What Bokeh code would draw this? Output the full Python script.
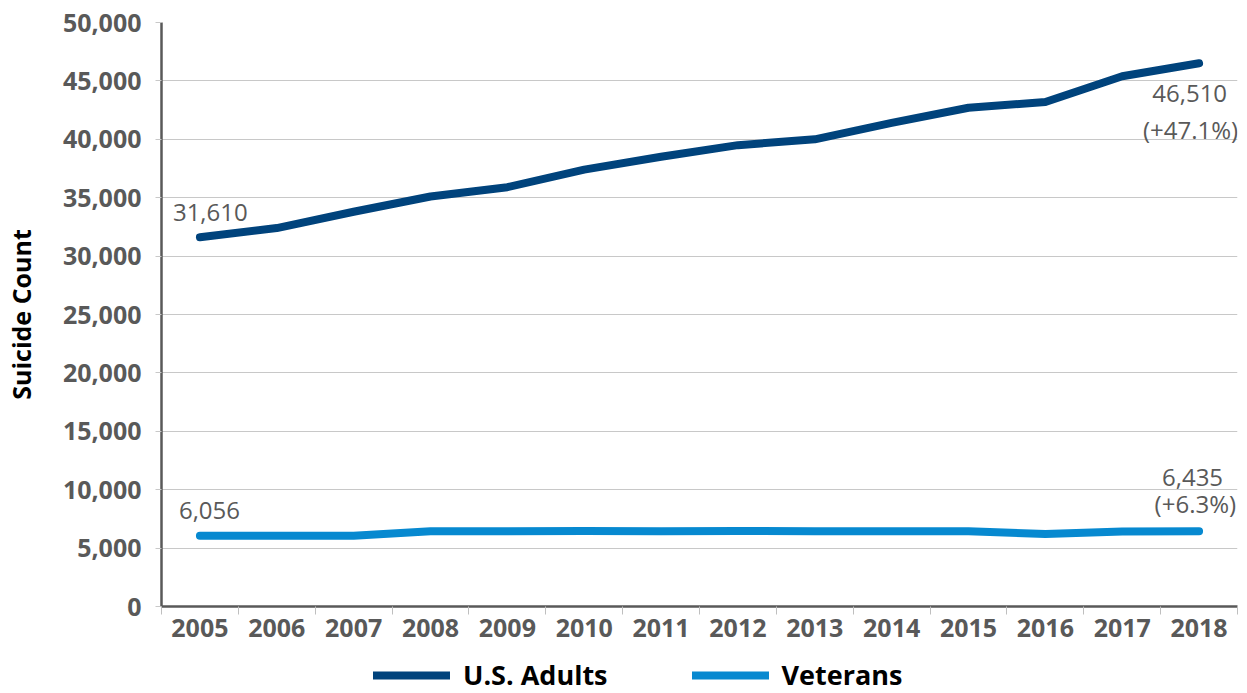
from bokeh.plotting import figure
from bokeh.layouts import column
from bokeh.models import (ColumnDataSource, FixedTicker, NumeralTickFormatter,
                          Legend, LegendItem)
from bokeh.core.properties import value
from bokeh.embed import file_html
from bokeh.resources import INLINE

# Annual suicide counts
years = list(range(2005, 2019))
us_adults = [31610, 32400, 33800, 35100, 35900, 37400, 38500,
             39500, 40000, 41400, 42700, 43200, 45400, 46510]
veterans = [6056, 6050, 6060, 6450, 6450, 6460, 6450,
            6460, 6450, 6450, 6440, 6200, 6430, 6435]
y_ticks = list(range(0, 50001, 5000))
series_names = ["U.S. Adults", "Veterans"]

US_COLOR = "#00437c"
VET_COLOR = "#0789d0"
GRAY = "#595959"
FONT = "Open Sans"
W = 1247

p = figure(width=W, height=652, output_backend="svg", toolbar_location=None,
           x_range=(years[0] - 0.5, years[-1] + 0.5), y_range=(0, 50000),
           min_border_left=158, min_border_right=10, min_border_top=22,
           min_border_bottom=46)
p.outline_line_color = None
p.background_fill_color = "white"
p.border_fill_color = "white"

# Year labels centred in each column, small ticks on the column boundaries
xa = p.xaxis[0]
xa.ticker = FixedTicker(ticks=years, minor_ticks=[y - 0.5 for y in years] + [years[-1] + 0.5])
xa.major_label_overrides = {y: str(y) for y in years}
xa.major_tick_line_color = None
xa.major_tick_out = 8
xa.major_tick_in = 0
xa.minor_tick_line_color = "#bfbfbf"
xa.minor_tick_line_width = 1
xa.minor_tick_out = 8
xa.minor_tick_in = 0
xa.major_label_standoff = 4
xa.axis_line_color = GRAY
xa.axis_line_width = 2.5
xa.major_label_text_font = FONT
xa.major_label_text_font_style = "bold"
xa.major_label_text_font_size = "25px"
xa.major_label_text_color = GRAY

ya = p.yaxis[0]
ya.ticker = FixedTicker(ticks=y_ticks, minor_ticks=[])
ya.formatter = NumeralTickFormatter(format="0,0")
ya.major_tick_line_color = "#c8c8c8"
ya.major_tick_out = 6
ya.major_tick_in = 0
ya.major_label_standoff = 14
ya.axis_line_color = GRAY
ya.axis_line_width = 2.5
ya.major_label_text_font = FONT
ya.major_label_text_font_style = "bold"
ya.major_label_text_font_size = "25px"
ya.major_label_text_color = GRAY
ya.axis_label = "Suicide Count"
ya.axis_label_text_font = FONT
ya.axis_label_text_font_style = "bold"
ya.axis_label_text_font_size = "25px"
ya.axis_label_text_color = "black"
ya.axis_label_standoff = 22

p.xgrid.grid_line_color = None
p.ygrid.ticker = FixedTicker(ticks=y_ticks[1:])
p.ygrid.grid_line_color = "#c8c8c8"
p.ygrid.grid_line_width = 1.2

src = ColumnDataSource(dict(year=years, us=us_adults, vet=veterans))
line_style = dict(line_width=8, line_join="round", line_cap="round")
p.line("year", "us", source=src, color=US_COLOR, **line_style)
p.line("year", "vet", source=src, color=VET_COLOR, **line_style)

# Start and end annotations, with percent change over the period
us_pct = (us_adults[-1] / us_adults[0] - 1) * 100
vet_pct = (veterans[-1] / veterans[0] - 1) * 100

lab_style = dict(text_font=value(FONT), text_font_size="24px", text_color=GRAY,
                 text_baseline="middle")

p.text(x=[years[0]], y=[us_adults[0]], text=[f"{us_adults[0]:,}"],
       x_offset=-27, y_offset=-25, text_align="left", **lab_style)
p.text(x=[years[-1]], y=[us_adults[-1]], text=[f"{us_adults[-1]:,}"],
       x_offset=28, y_offset=30, text_align="right", **lab_style)
p.text(x=[years[-1]], y=[us_adults[-1]], text=[f"(+{us_pct:.1f}%)"],
       x_offset=39, y_offset=66, text_align="right", **lab_style)

p.text(x=[years[0]], y=[veterans[0]], text=[f"{veterans[0]:,}"],
       x_offset=-21, y_offset=-25, text_align="left", **lab_style)
p.text(x=[years[-1]], y=[veterans[-1]], text=[f"{veterans[-1]:,}"],
       x_offset=24, y_offset=-54, text_align="right", **lab_style)
p.text(x=[years[-1]], y=[veterans[-1]], text=[f"(+{vet_pct:.1f}%)"],
       x_offset=37, y_offset=-28, text_align="right", **lab_style)

# Legend strip underneath the chart; its frame lines up with the chart frame.
# The key renderers hold a single NaN point so only their legend swatch shows.
lg = figure(width=W, height=41, output_backend="svg", toolbar_location=None,
            x_axis_type=None, y_axis_type=None, min_border=0,
            x_range=(0, 1), y_range=(0, 1))
lg.outline_line_color = None
lg.grid.visible = False
nan = float("nan")
keys = [lg.line(x=[nan], y=[nan], color=c, **line_style) for c in (US_COLOR, VET_COLOR)]

legend = Legend(items=[LegendItem(label=n, renderers=[r]) for n, r in zip(series_names, keys)],
                orientation="horizontal", location=(212, 0),
                glyph_width=77, glyph_height=24, label_height=24,
                label_standoff=13, spacing=84, padding=0, margin=0,
                border_line_color=None, background_fill_alpha=0,
                label_text_font=FONT, label_text_font_style="bold",
                label_text_font_size="27px", label_text_color="black")
lg.add_layout(legend, "center")

open("out.html", "w").write(file_html(column(p, lg, spacing=0), INLINE))
